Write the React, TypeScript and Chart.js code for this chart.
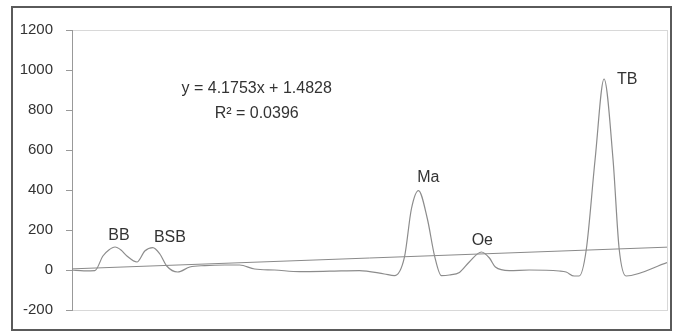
import React, { useEffect, useRef } from 'react';
import { Chart, registerables } from 'chart.js';

Chart.register(...registerables);

// Measured curve (x in the original 1..27 scale, y in value units)
const curveX = [
  1.0, 1.52, 2.0, 2.35, 2.61, 2.88, 3.14, 3.4, 3.84, 4.18, 4.53, 4.84, 5.14, 5.62,
  6.15, 6.8, 7.67, 8.33, 8.98, 9.85, 10.95, 12.26, 13.56, 14.65, 15.09, 15.53, 15.83,
  16.14, 16.53, 16.84, 17.14, 17.49, 17.93, 18.36, 18.89, 19.24, 19.5, 20.11, 20.98,
  22.29, 22.59, 22.94, 23.16, 23.47, 23.86, 24.25, 24.64, 24.91, 25.21, 27.0,
];
const curveY = [
  0, -4, -3, 70, 100, 115, 100, 70, 40, 95, 112, 80, 20, -10,
  15, 22, 25, 25, 5, 0, -8, -6, -3, -20, -28, 66, 305,
  397, 255, 72, -28, -25, -12, 40, 90, 60, 15, -3, 0,
  -5, -10, -30, -30, 100, 555, 955, 555, 105, -30, 37,
];

// Linear trendline end points
const trendX = [1, 27];
const trendY = [5.66, 114.2];

// Axis
const yMin = -200;
const yMax = 1200;
const yStep = 200;

// Peak labels
const peakLabels = ['BB', 'BSB', 'Ma', 'Oe', 'TB'];
const peakLabelX = [3.05, 5.28, 16.57, 18.93, 25.26];
const peakLabelY = [170, 160, 460, 145, 950];

// Trendline equation
const equationLines = ['y = 4.1753x + 1.4828', 'R\u00B2 = 0.0396'];
const equationX = 9.07;
const equationY = [905, 780];

const FONT = '"Liberation Sans", Arial, sans-serif';

export default function App() {
  const ref = useRef<HTMLCanvasElement | null>(null);

  useEffect(() => {
    const canvas = ref.current;
    if (!canvas) return;

    const decor = {
      id: 'decor',
      beforeDraw(chart: any) {
        const ctx = chart.ctx;
        ctx.save();
        ctx.fillStyle = '#ffffff';
        ctx.fillRect(0, 0, chart.width, chart.height);
        const a = chart.chartArea;
        ctx.strokeStyle = '#d8d8d8';
        ctx.lineWidth = 1;
        ctx.strokeRect(a.left + 0.5, a.top + 0.5, a.right - a.left, a.bottom - a.top);
        ctx.restore();
      },
      afterDraw(chart: any) {
        const ctx = chart.ctx;
        const xs = chart.scales.x;
        const ys = chart.scales.y;
        ctx.save();
        // outer border
        ctx.strokeStyle = '#5a5a5a';
        ctx.lineWidth = 2;
        ctx.strokeRect(12, 7, 659, 323);
        ctx.fillStyle = '#333333';
        ctx.textAlign = 'center';
        ctx.textBaseline = 'middle';
        ctx.font = '16px ' + FONT;
        peakLabels.forEach((t, i) => {
          ctx.fillText(t, xs.getPixelForValue(peakLabelX[i]), ys.getPixelForValue(peakLabelY[i]));
        });
        ctx.font = '16px ' + FONT;
        equationLines.forEach((t, i) => {
          ctx.fillText(t, xs.getPixelForValue(equationX), ys.getPixelForValue(equationY[i]));
        });
        ctx.restore();
      },
    };

    const chart = new Chart(canvas, {
      type: 'line',
      data: {
        datasets: [
          {
            data: curveX.map((x, i) => ({ x, y: curveY[i] })),
            borderColor: '#8c8c8c',
            borderWidth: 1.2,
            pointRadius: 0,
            cubicInterpolationMode: 'monotone',
            fill: false,
          },
          {
            data: trendX.map((x, i) => ({ x, y: trendY[i] })),
            borderColor: '#8a8a8a',
            borderWidth: 1,
            pointRadius: 0,
            fill: false,
          },
        ],
      },
      options: {
        responsive: false,
        animation: false,
        layout: { padding: { left: 12, top: 30, right: 9, bottom: 21 } },
        plugins: { legend: { display: false }, tooltip: { enabled: false } },
        scales: {
          x: { type: 'linear', min: 1, max: 27, display: false },
          y: {
            min: yMin,
            max: yMax,
            afterFit: (s: any) => {
              s.width = 60;
            },
            ticks: {
              stepSize: yStep,
              padding: 13,
              color: '#333333',
              font: { family: FONT, size: 15 },
              callback: (v: any) => String(v),
            },
            grid: { drawOnChartArea: false, drawTicks: true, tickLength: 6, color: '#999999' },
            border: { display: true, color: '#999999' },
          },
        },
      },
      plugins: [decor],
    } as any);

    return () => chart.destroy();
  }, []);

  return (
    <div style={{ position: 'fixed', left: 0, top: 0, width: 676, height: 332, background: '#fff' }}>
      <canvas ref={ref} width={676} height={332} style={{ display: 'block' }} />
    </div>
  );
}
